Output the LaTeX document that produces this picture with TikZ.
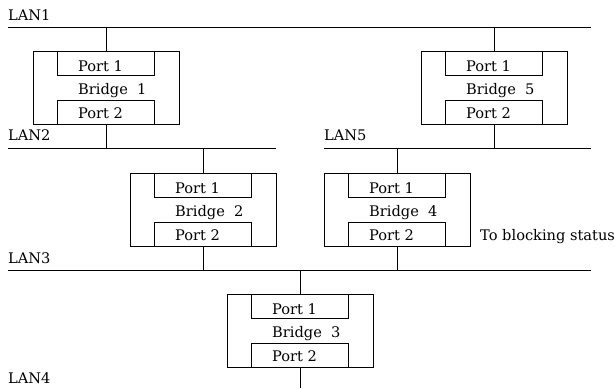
\documentclass[tikz,border=0pt]{standalone}
\usepackage{fontspec}
\setmainfont{DejaVu Serif}
\usetikzlibrary{calc}
\begin{document}
\begin{tikzpicture}[x=1pt,y=-1pt,
  outerbox/.style={draw, line width=0.9pt, minimum width=146pt, minimum height=73pt, inner sep=0pt, anchor=north west},
  portbox/.style={draw, line width=1.2pt, minimum width=97pt, minimum height=24pt, inner sep=0pt},
  lan/.style={line width=0.9pt},
  link/.style={line width=1.2pt},
  txt/.style={inner sep=0pt, anchor=base west, font=\fontsize{14.6pt}{17pt}\selectfont}]
\useasboundingbox (0,0) rectangle (615,388);
\newcommand\mybridge[4]{%
  \node[outerbox] (#1) at (#2,#3) {};
  \node[portbox, anchor=north west] (#1p1) at ($(#1.north west)+(24,0)$) {};
  \node[portbox, anchor=south west] (#1p2) at ($(#1.south west)+(24,0)$) {};
  \node[txt] (#1t1) at ($(#1p1.north west)+(21,20)$) {Port 1};
  \node[txt] (#1t2) at ($(#1p2.north west)+(21,19)$) {Port 2};
  \node[txt] (#1tb) at ($(#1.north west)+(45,43)$) {Bridge\ \ #4};
}
% LANs
\coordinate (lan1a) at (8,27);   \coordinate (lan1b) at (591,27);
\coordinate (lan2a) at (8,148);  \coordinate (lan2b) at (276,148);
\coordinate (lan5a) at (324,148);\coordinate (lan5b) at (591,148);
\coordinate (lan3a) at (8,270);  \coordinate (lan3b) at (591,270);
\coordinate (lan4) at (8,388);
\draw[lan] (lan1a) -- (lan1b);
\draw[lan] (lan2a) -- (lan2b);
\draw[lan] (lan5a) -- (lan5b);
\draw[lan] (lan3a) -- (lan3b);
\node[txt] (l1) at (8,20) {LAN1};
\node[txt] (l2) at (8,140) {LAN2};
\node[txt] (l5) at (324,140) {LAN5};
\node[txt] (l3) at (8,263) {LAN3};
\node[txt] (l4) at (8,383) {LAN4};
% Bridges
\mybridge{b1}{33}{51}{1}
\mybridge{b2}{130}{173}{2}
\mybridge{b3}{227}{294}{3}
\mybridge{b4}{324}{173}{4}
\mybridge{b5}{421}{51}{5}
% connections
\draw[link] (b1p1.north) -- (b1p1.north |- lan1a);
\draw[link] (b1p2.south) -- (b1p2.south |- lan2a);
\draw[link] (b5p1.north) -- (b5p1.north |- lan1a);
\draw[link] (b5p2.south) -- (b5p2.south |- lan5a);
\draw[link] (b2p1.north) -- (b2p1.north |- lan2a);
\draw[link] (b2p2.south) -- (b2p2.south |- lan3a);
\draw[link] (b4p1.north) -- (b4p1.north |- lan5a);
\draw[link] (b4p2.south) -- (b4p2.south |- lan3a);
\draw[link] (b3p1.north) -- (b3p1.north |- lan3a);
\draw[link] (b3p2.south) -- (b3p2.south |- lan4);
\node[txt] (blk) at (480,240) {To blocking status};
\end{tikzpicture}
\end{document}
